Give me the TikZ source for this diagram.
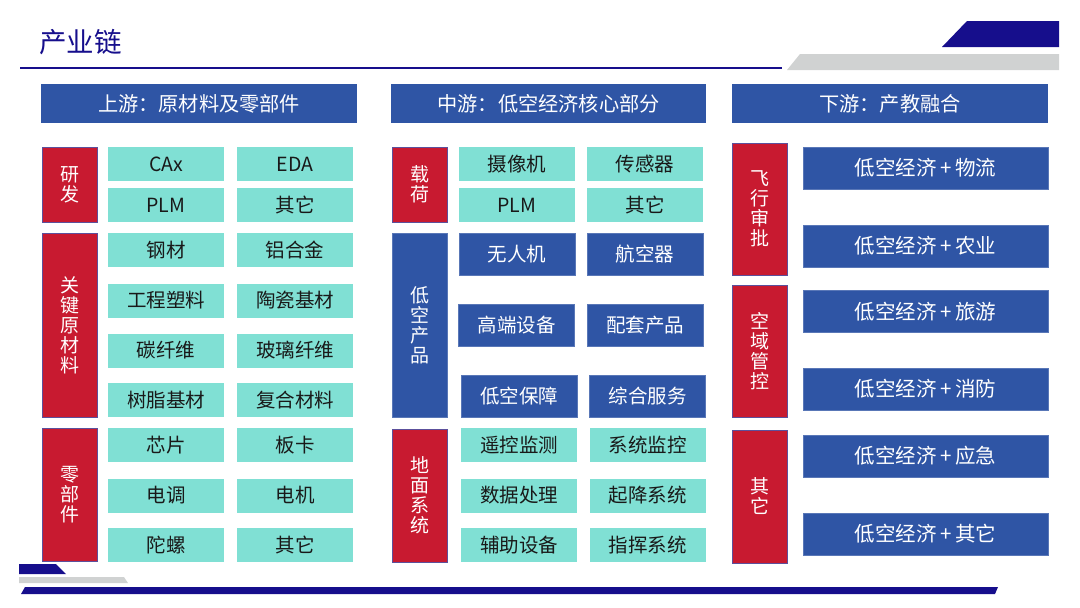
\documentclass[tikz,border=0pt]{standalone}
\usepackage{fontspec}
\setmainfont{Noto Sans CJK SC}
\usepackage{xcolor}
\definecolor{icnavy}{RGB}{22,14,140}
\definecolor{icblue}{RGB}{47,85,165}
\definecolor{icred}{RGB}{200,26,48}
\definecolor{icteal}{RGB}{128,224,212}
\definecolor{icgray}{RGB}{208,210,210}
\definecolor{icedge}{RGB}{92,80,156}
\usetikzlibrary{positioning}

\begin{document}
\begin{tikzpicture}[x=1pt, y=-1pt,
  tealbox/.style={fill=icteal, inner sep=0pt, minimum width=116, minimum height=34,
    font=\fontsize{19.5}{20}\selectfont, text=black!90},
  bluebox/.style={fill=icblue, draw=icblue!80!white, inner sep=0pt, minimum width=116, minimum height=42,
    font=\fontsize{19.5}{20}\selectfont, text=white},
  widebox/.style={bluebox, minimum width=245, font=\fontsize{20.5}{20}\selectfont},
  headbox/.style={fill=icblue, inner sep=0pt, minimum width=316, minimum height=39,
    font=\fontsize{20.2}{20}\selectfont, text=white},
  sidebox/.style={fill=icred, draw=icedge, line width=0.6pt, inner sep=0pt, minimum width=55,
    align=center, font=\fontsize{19}{20}\selectfont, text=white},
  sideblue/.style={sidebox, fill=icblue, draw=icblue!80!white}]
  \useasboundingbox (0,0) rectangle (1080,608);

  % Title and decorations
  \node[font=\fontsize{27.5}{28}\selectfont, text=icnavy, anchor=west, inner sep=0pt] (title) at (39,42) {产业链};
  \draw[icnavy, line width=1.2pt] (20,68) -- (782,68);
  \fill[icnavy] (967,21) -- (1059,21) -- (1059,47) -- (942,47) -- cycle;
  \fill[icgray] (800,54) -- (1059,54) -- (1059,70) -- (787,70) -- cycle;
  \fill[icnavy] (19,564) -- (56,564) -- (66,574) -- (19,574) -- cycle;
  \fill[icgray] (19,577) -- (124,577) -- (128,583) -- (19,583) -- cycle;
  \fill[icnavy] (25,587) -- (998,587) -- (995,594) -- (21,594) -- cycle;

  % Column headers
  \node[headbox] (hup)   at (199,103.5)   {上游：原材料及零部件};
  \node[headbox, minimum width=315] (hmid) at (548.5,103.5) {中游：低空经济核心部分};
  \node[headbox] (hdown) at (890,103.5)   {下游：产教融合};

  % --- Upstream ---
  \node[sidebox, minimum height=75]  (rd)   at (69.5,184.5) {研\\发};
  \node[sidebox, minimum height=184] (raw)  at (69.5,325)   {关\\键\\原\\材\\料};
  \node[sidebox, minimum height=133] (part) at (69.5,494.5) {零\\部\\件};
  \node[tealbox] (cax)   at (166,164)   {CAx};
  \node[tealbox] (eda)   at (295,164)   {EDA};
  \node[tealbox] (plma)  at (166,205)   {PLM};
  \node[tealbox] (otha)  at (295,205)   {其它};
  \node[tealbox] (steel) at (166,250)   {钢材};
  \node[tealbox] (alloy) at (295,250)   {铝合金};
  \node[tealbox] (plast) at (166,300.5) {工程塑料};
  \node[tealbox] (ceram) at (295,300.5) {陶瓷基材};
  \node[tealbox] (carb)  at (166,350.5) {碳纤维};
  \node[tealbox] (glass) at (295,350.5) {玻璃纤维};
  \node[tealbox] (resin) at (166,400)   {树脂基材};
  \node[tealbox] (comp)  at (295,400)   {复合材料};
  \node[tealbox] (chip)  at (166,445)   {芯片};
  \node[tealbox] (board) at (295,445)   {板卡};
  \node[tealbox] (esc)   at (166,495.5) {电调};
  \node[tealbox] (motor) at (295,495.5) {电机};
  \node[tealbox] (gyro)  at (166,545)   {陀螺};
  \node[tealbox] (othb)  at (295,545)   {其它};

  % --- Midstream ---
  \node[sidebox, minimum height=75]  (load) at (419.5,184.5) {载\\荷};
  \node[sideblue, minimum height=184] (prod) at (419.5,325) {低\\空\\产\\品};
  \node[sidebox, minimum height=133] (grnd) at (419.5,495.5) {地\\面\\系\\统};
  \node[tealbox] (cam)   at (517,164)   {摄像机};
  \node[tealbox] (sens)  at (645,164)   {传感器};
  \node[tealbox] (plmb)  at (517,205)   {PLM};
  \node[tealbox] (othc)  at (645,205)   {其它};
  \node[bluebox] (uav)   at (517,254)   {无人机};
  \node[bluebox] (craft) at (645,254)   {航空器};
  \node[bluebox] (equip) at (516.5,325) {高端设备};
  \node[bluebox] (supp)  at (645,325)   {配套产品};
  \node[bluebox] (guard) at (519,396)   {低空保障};
  \node[bluebox] (serv)  at (647.5,396) {综合服务};
  \node[tealbox] (remot) at (519,445)   {遥控监测};
  \node[tealbox] (sysmo) at (647.5,445) {系统监控};
  \node[tealbox] (data)  at (519,495.5) {数据处理};
  \node[tealbox] (lift)  at (647.5,495.5) {起降系统};
  \node[tealbox] (aux)   at (519,545)   {辅助设备};
  \node[tealbox] (cmd)   at (647.5,545) {指挥系统};

  % --- Downstream ---
  \node[sidebox, minimum height=132] (appr) at (759.5,209)   {飞\\行\\审\\批};
  \node[sidebox, minimum height=132] (airsp) at (759.5,351)  {空\\域\\管\\控};
  \node[sidebox, minimum height=133] (othd) at (759.5,496.5) {其\\它};
  \node[widebox] (logi) at (925.5,168)   {低空经济\,+\,物流};
  \node[widebox] (agri) at (925.5,246)   {低空经济\,+\,农业};
  \node[widebox] (tour) at (925.5,311.5) {低空经济\,+\,旅游};
  \node[widebox] (fire) at (925.5,389)   {低空经济\,+\,消防};
  \node[widebox] (emer) at (925.5,456)   {低空经济\,+\,应急};
  \node[widebox] (more) at (925.5,534)   {低空经济\,+\,其它};
\end{tikzpicture}
\end{document}
